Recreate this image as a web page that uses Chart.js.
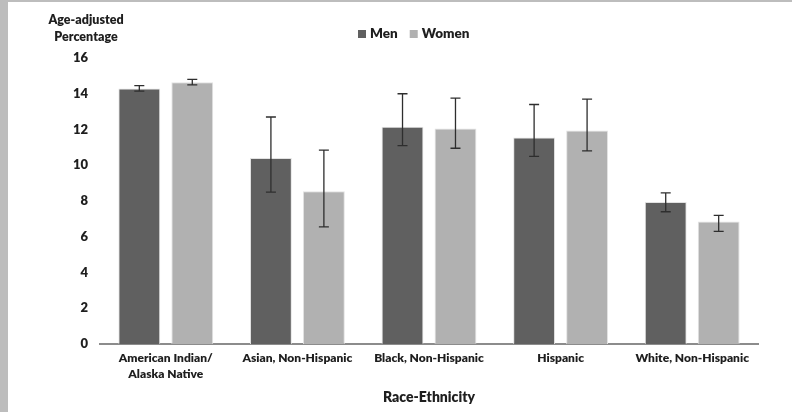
<!DOCTYPE html>
<html>
<head>
<meta charset="utf-8">
<script src="https://cdn.jsdelivr.net/npm/chart.js@4.4.1/dist/chart.umd.min.js"></script>
<style>
  html, body { margin: 0; padding: 0; background: #bdbdbd; }
  #wrap { position: absolute; left: 8px; top: 2px; width: 784px; height: 410px; background: #fff; }
</style>
</head>
<body>
<div id="wrap"><canvas id="chart" width="784" height="410"></canvas></div>
<script>
const categories = [['American Indian/', 'Alaska Native'], 'Asian, Non-Hispanic', 'Black, Non-Hispanic', 'Hispanic', 'White, Non-Hispanic'];
const menValues = [14.3, 10.4, 12.15, 11.55, 7.95];
const womenValues = [14.65, 8.55, 12.05, 11.95, 6.85];
const menLow = [14.15, 8.5, 11.1, 10.5, 7.4];
const menHigh = [14.45, 12.7, 14.0, 13.4, 8.45];
const womenLow = [14.5, 6.55, 10.95, 10.8, 6.3];
const womenHigh = [14.8, 10.85, 13.75, 13.7, 7.2];

const FONT = 'Lato, "Open Sans", Arial, sans-serif';
const W = 800;
const MEN = '#606060', WOMEN = '#b1b1b1';
const $ = id => document.getElementById(id);

const errorBars = {
  id: 'errorBars',
  afterDatasetsDraw(chart) {
    const y = chart.scales.y, ctx = chart.ctx;
    ctx.save();
    ctx.strokeStyle = '#2e2e2e';
    ctx.lineWidth = 1.3;
    chart.data.datasets.forEach((ds, i) => {
      chart.getDatasetMeta(i).data.forEach((bar, j) => {
        const top = y.getPixelForValue(ds.errHigh[j]);
        const bot = y.getPixelForValue(ds.errLow[j]);
        ctx.beginPath();
        ctx.moveTo(bar.x, top); ctx.lineTo(bar.x, bot);
        ctx.moveTo(bar.x - 5, top); ctx.lineTo(bar.x + 5, top);
        ctx.moveTo(bar.x - 5, bot); ctx.lineTo(bar.x + 5, bot);
        ctx.stroke();
      });
    });
    ctx.restore();
  }
};

const headings = {
  id: 'headings',
  afterDraw(chart) {
    const ctx = chart.ctx;
    ctx.save();
    ctx.fillStyle = '#1e1e1e';
    ctx.font = W + ' 12.5px ' + FONT;
    ctx.textAlign = 'center';
    ctx.textBaseline = 'middle';
    ctx.fillText('Age-adjusted', 78, 18);
    ctx.fillText('Percentage', 78, 35);
    // legend
    ctx.font = W + ' 13.5px ' + FONT;
    ctx.textAlign = 'left';
    let x = 350;
    chart.data.datasets.forEach(ds => {
      ctx.fillStyle = ds.backgroundColor;
      ctx.fillRect(x, 28, 8, 8);
      ctx.fillStyle = '#1e1e1e';
      ctx.fillText(ds.label, x + 12, 32);
      x += 12 + ctx.measureText(ds.label).width + 12;
    });
    ctx.restore();
  }
};

new Chart($('chart'), {
  type: 'bar',
  data: {
    labels: categories,
    datasets: [
      { label: 'Men', data: menValues, errLow: menLow, errHigh: menHigh, backgroundColor: MEN, borderColor: '#e2e2e2', borderWidth: 1 },
      { label: 'Women', data: womenValues, errLow: womenLow, errHigh: womenHigh, backgroundColor: WOMEN, borderColor: '#e2e2e2', borderWidth: 1 }
    ]
  },
  options: {
    responsive: false, animation: false,
    categoryPercentage: 0.805, barPercentage: 0.79,
    layout: { padding: { top: 56, right: 34, bottom: 0, left: 0 } },
    plugins: { legend: { display: false }, tooltip: { enabled: false } },
    scales: {
      x: {
        grid: { display: false, drawTicks: false },
        border: { color: '#8c8c8c', width: 2 },
        ticks: { color: '#1e1e1e', font: { family: FONT, weight: W, size: 12, lineHeight: 1.35 }, padding: 6, maxRotation: 0, autoSkip: false },
        title: { display: true, text: 'Race-Ethnicity', color: '#1e1e1e', font: { family: FONT, weight: W, size: 14 }, padding: { top: 0, bottom: 6 } },
        afterFit: s => { s.height = 68; }
      },
      y: {
        min: 0, max: 16,
        grid: { display: false, drawTicks: false },
        border: { display: false },
        ticks: { stepSize: 2, color: '#1e1e1e', font: { family: FONT, weight: W, size: 13 }, padding: 12 },
        afterFit: s => { s.width = 92; }
      }
    }
  },
  plugins: [errorBars, headings]
});
</script>
</body>
</html>
